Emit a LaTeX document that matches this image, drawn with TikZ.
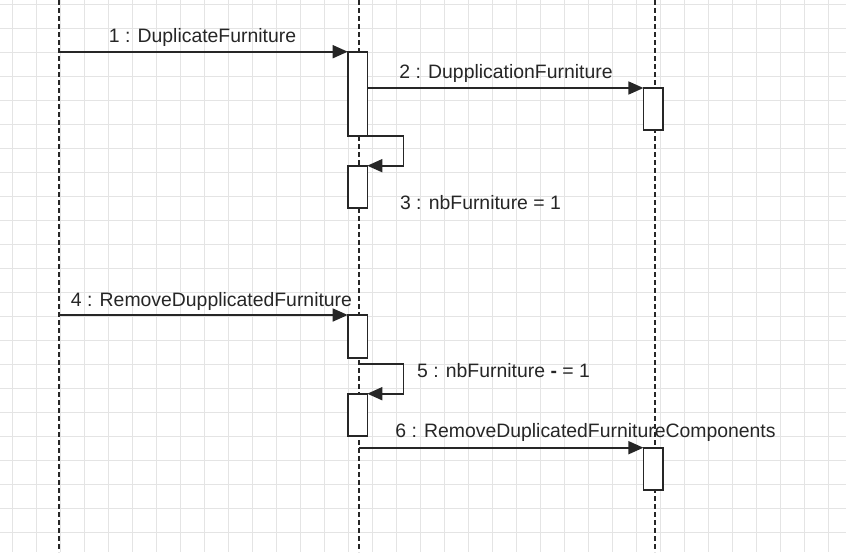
\documentclass[tikz,border=0pt]{standalone}
\usepackage{fontspec}
\setmainfont{Liberation Sans}
\usetikzlibrary{arrows.meta}
\definecolor{ink}{HTML}{262626}
\definecolor{gridc}{HTML}{E4E4E4}
\begin{document}
\begin{tikzpicture}[x=1pt,y=-1pt,
  lifeline/.style={draw=ink, line width=1.5pt, dash pattern=on 5pt off 3pt},
  actbox/.style={draw=ink, fill=white, line width=1.6pt, inner sep=0pt, outer sep=0pt, rectangle, anchor=north west, minimum width=19.6pt},
  msg/.style={draw=ink, line width=1.6pt, -{Triangle[length=15pt,width=13pt]}},
  lbl/.style={text=ink, font=\fontsize{19.4}{23}\selectfont, inner sep=0pt, anchor=base},
  gridline/.style={draw=gridc, line width=0.9pt}
]
\useasboundingbox (0,0) rectangle (846,552);
\fill[white] (0,0) rectangle (846,552);
% background grid
\foreach \gx in {0,...,34} { \draw[gridline] (12.3+24*\gx,0) -- (12.3+24*\gx,552); }
\foreach \gy in {0,...,22} { \draw[gridline] (0,4.3+24*\gy) -- (846,4.3+24*\gy); }

% lifelines
\coordinate (l1t) at (59,0);   \coordinate (l1b) at (59,552);
\coordinate (l2t) at (359,0);  \coordinate (l2b) at (359,552);
\coordinate (l3t) at (655,0);  \coordinate (l3b) at (655,552);
\draw[lifeline] (l1t) -- (l1b);
\draw[lifeline] (l2t) -- (l2b);
\draw[lifeline] (l3t) -- (l3b);

% activation boxes
\node[actbox, minimum height=84.3pt] (a1) at (347.7,51.7) {};
\node[actbox, minimum height=42pt]   (a2) at (643.4,88) {};
\node[actbox, minimum height=42.3pt] (a3) at (347.7,165.7) {};
\node[actbox, minimum height=42.7pt] (a4) at (347.7,315) {};
\node[actbox, minimum height=42pt]   (a5) at (347.7,393.7) {};
\node[actbox, minimum height=42.3pt] (a6) at (643.4,447.7) {};

% message start points on lifelines
\coordinate (m1s) at (59,51.7);
\coordinate (m2s) at (367.3,88);
\coordinate (m4s) at (59,315);
\coordinate (m5s) at (359,363.7);
\coordinate (m6s) at (359,447.7);

% messages
\draw[msg] (m1s) -- (a1.north west);
\draw[msg] (m2s) -- (a2.north west);
\draw[msg] (a1.south east) -- ++(36,0) |- (a3.north east);
\draw[msg] (m4s) -- (a4.north west);
\draw[msg] (m5s) -- ++(44.3,0) |- (a5.north east);
\draw[msg] (m6s) -- (a6.north west);

% labels
\node[lbl] (t1) at (202.5,42.3) {1 : DuplicateFurniture};
\node[lbl] (t2) at (506,78.3) {2 : DupplicationFurniture};
\node[lbl] (t3) at (480.5,209.3) {3 : nbFurniture = 1};
\node[lbl] (t4) at (211.5,306) {4 : RemoveDupplicatedFurniture};
\node[lbl] (t5) at (503.5,377.7) {5 : nbFurniture {\bfseries -} = 1};
\node[lbl] (t6) at (585.5,437.3) {6 : RemoveDuplicatedFurnitureComponents};
\end{tikzpicture}
\end{document}
